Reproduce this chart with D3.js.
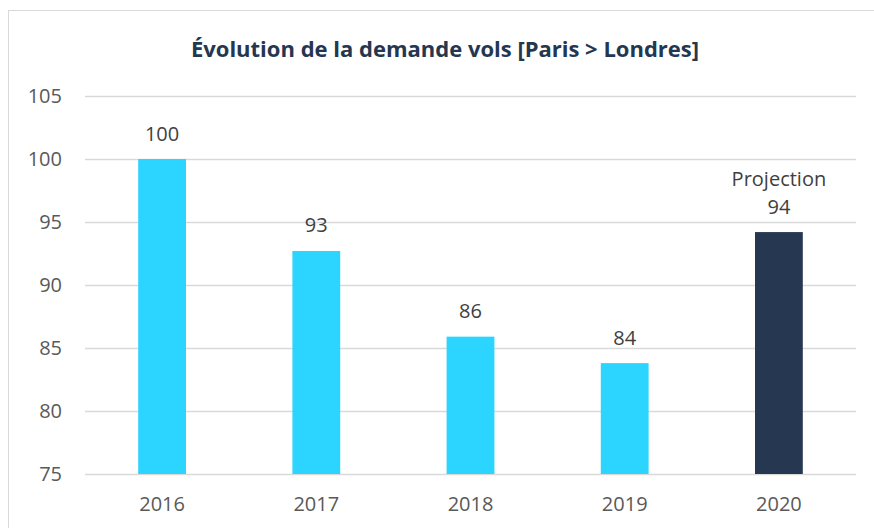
<!DOCTYPE html>
<html>
<head>
<meta charset="utf-8">
<script src="https://cdn.jsdelivr.net/npm/d3@7"></script>
<style>
  body { margin: 0; background: #fff; }
  text { font-family: "Open Sans", sans-serif; }
</style>
</head>
<body>
<div id="chart"></div>
<script>
// data
const years = ["2016", "2017", "2018", "2019", "2020"];
const demand = [100, 92.7, 85.9, 83.8, 94.2];
const valueLabels = ["100", "93", "86", "84", "94"];
const yTicks = [75, 80, 85, 90, 95, 100, 105];

const width = 874, height = 528;
const margin = { top: 96, right: 18, bottom: 54, left: 85 };

const svg = d3.select("#chart")
  .append("svg")
  .attr("width", width)
  .attr("height", height);

// chart frame
svg.append("rect")
  .attr("x", 8.5).attr("y", 10.5)
  .attr("width", width).attr("height", height)
  .attr("fill", "none")
  .attr("stroke", "#d9d9d9");

const x = d3.scaleBand()
  .domain(years)
  .range([margin.left, width - margin.right])
  .paddingInner(0.69)
  .paddingOuter(0.345);

const y = d3.scaleLinear()
  .domain([75, 105])
  .range([height - margin.bottom, margin.top]);

// gridlines
svg.append("g")
  .selectAll("line")
  .data(yTicks)
  .join("line")
  .attr("x1", margin.left)
  .attr("x2", width - margin.right)
  .attr("y1", d => Math.round(y(d)) + 0.5)
  .attr("y2", d => Math.round(y(d)) + 0.5)
  .attr("stroke", "#d9d9d9")
  .attr("stroke-width", 1.5);

// y axis labels
const yAxis = d3.axisLeft(y).tickValues(yTicks).tickSize(0).tickPadding(23);
svg.append("g")
  .attr("transform", `translate(${margin.left},0)`)
  .call(yAxis)
  .call(g => g.select(".domain").remove())
  .call(g => g.selectAll("text")
    .attr("font-size", 20)
    .attr("fill", "#595959")
    .attr("font-family", "Open Sans"));

// x axis labels
const xAxis = d3.axisBottom(x).tickSize(0).tickPadding(23);
svg.append("g")
  .attr("transform", `translate(0,${height - margin.bottom})`)
  .call(xAxis)
  .call(g => g.select(".domain").remove())
  .call(g => g.selectAll("text")
    .attr("font-size", 20)
    .attr("fill", "#595959")
    .attr("font-family", "Open Sans"));

// bars
svg.append("g")
  .selectAll("rect")
  .data(demand)
  .join("rect")
  .attr("x", (d, i) => x(years[i]))
  .attr("width", x.bandwidth())
  .attr("y", d => y(d))
  .attr("height", d => y(75) - y(d))
  .attr("fill", (d, i) => i === years.length - 1 ? "#263751" : "#2bd5ff");

// value labels
svg.append("g")
  .selectAll("text")
  .data(demand)
  .join("text")
  .attr("x", (d, i) => x(years[i]) + x.bandwidth() / 2)
  .attr("y", d => y(d) - 18.5)
  .attr("text-anchor", "middle")
  .attr("font-size", 20)
  .attr("fill", "#404040")
  .text((d, i) => valueLabels[i]);

svg.append("text")
  .attr("x", x("2020") + x.bandwidth() / 2)
  .attr("y", y(demand[4]) - 46.5)
  .attr("text-anchor", "middle")
  .attr("font-size", 20)
  .attr("fill", "#404040")
  .text("Projection");

// title
svg.append("text")
  .attr("x", 445)
  .attr("y", 57)
  .attr("text-anchor", "middle")
  .attr("font-size", 22)
  .attr("font-weight", "bold")
  .attr("fill", "#253750")
  .text("Évolution de la demande vols [Paris > Londres]");
</script>
</body>
</html>
